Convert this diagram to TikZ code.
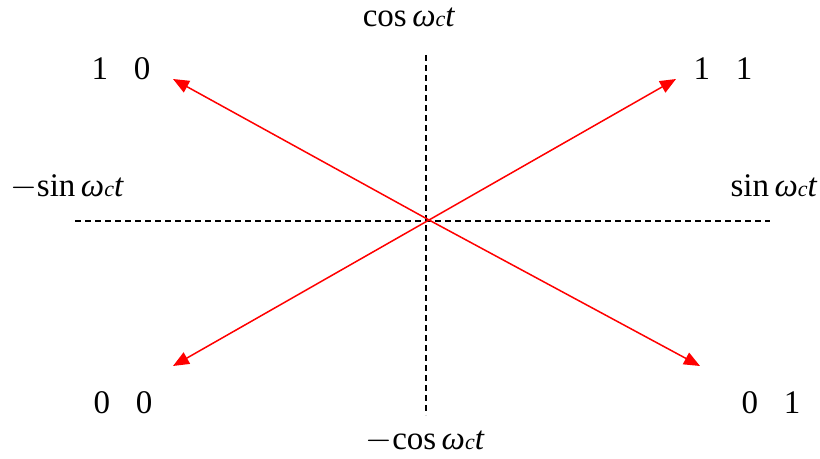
\documentclass[tikz,border=0pt]{standalone}
\usepackage{fontspec}
\setmainfont{Liberation Serif}
\usetikzlibrary{arrows.meta}

\newcommand{\wct}{\textit{ω}{\fontsize{11}{13}\selectfont\textit{c}}\textit{t}}

\begin{document}
\begin{tikzpicture}[
        x=0.5pt,
        y=-0.5pt,
        font=\fontsize{16.5}{19}\selectfont,
        axis/.style={dash pattern=on 3pt off 2pt, line width=0.75pt},
        vec/.style={-{Triangle[length=8pt,width=6.5pt]}, red, line width=0.75pt},
        lab/.style={inner sep=0pt, anchor=base}
    ]
        \useasboundingbox (0,0) rectangle (820,459);

        % axes
        \coordinate (o) at (429,220);
        \coordinate (xl) at (75,221);
        \coordinate (xr) at (770,221);
        \coordinate (yt) at (426,55);
        \coordinate (yb) at (426,415);
        \draw[axis] (xl) -- (xr);
        \draw[axis] (yt) -- (yb);

        % constellation vectors
        \coordinate (p10) at (173,79);
        \coordinate (p11) at (676,79);
        \coordinate (p00) at (173,366);
        \coordinate (p01) at (700,366);
        \foreach \p in {p10,p11,p00,p01} {
            \draw[vec] (o) -- (\p);
        }

        % axis labels
        \node[lab] (cpos) at (409,27) {cos\,\wct};
        \node[lab] (cneg) at (425,450) {$-$cos\,\wct};
        \node[lab] (sneg) at (67,197) {$-$sin\,\wct};
        \node[lab] (spos) at (774,197) {sin\,\wct};

        % symbol labels
        \node[lab] (l10) at (121,80) {1\hspace{13pt}0};
        \node[lab] (l11) at (723,80) {1\hspace{13pt}1};
        \node[lab] (l00) at (123,414) {0\hspace{13pt}0};
        \node[lab] (l01) at (771,414) {0\hspace{13pt}1};
    \end{tikzpicture}
\end{document}
